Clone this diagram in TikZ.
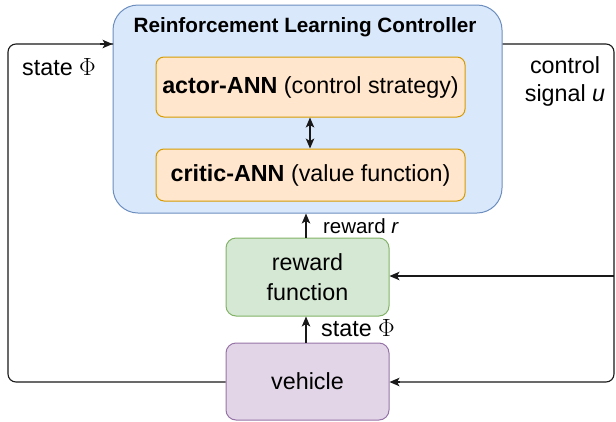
\documentclass[tikz,border=0pt]{standalone}
\usepackage{fontspec}
\setmainfont{Liberation Sans}
\usetikzlibrary{arrows.meta}
\definecolor{bfill}{HTML}{DAE8FC}\definecolor{bdraw}{HTML}{6C8EBF}
\definecolor{ofill}{HTML}{FFE6CC}\definecolor{odraw}{HTML}{D79B00}
\definecolor{gfill}{HTML}{D5E8D4}\definecolor{gdraw}{HTML}{82B366}
\definecolor{pfill}{HTML}{E1D5E7}\definecolor{pdraw}{HTML}{9673A6}
\begin{document}
\begin{tikzpicture}[x=1pt,y=-1pt,
  conn/.style={line width=1.1pt,draw=black!90,-{Stealth[length=10pt,width=8.5pt,inset=2.5pt]}},
  dconn/.style={line width=1.1pt,draw=black!90,{Stealth[length=10pt,width=8.5pt,inset=2.5pt]}-{Stealth[length=10pt,width=8.5pt,inset=2.5pt]}},
  loopline/.style={line width=1.1pt,draw=black!90,rounded corners=8pt},
  inner/.style={draw=odraw,fill=ofill,line width=1pt,rounded corners=8pt,minimum width=309pt,inner sep=0pt,font=\fontsize{23.3}{28}\selectfont},
  small/.style={draw,line width=1pt,rounded corners=10pt,minimum width=163pt,inner sep=0pt,align=center,font=\fontsize{23.3}{30}\selectfont},
  lbl/.style={inner sep=0pt,font=\fontsize{23.3}{28}\selectfont,align=center}]
\useasboundingbox (0,0) rectangle (616,421);
\node[draw=bdraw,fill=bfill,line width=1pt,rounded corners=25pt,minimum width=389pt,minimum height=208pt,inner sep=0pt] (rl) at (307.5,109) {};
\node[inner sep=0pt,font=\fontsize{20.7}{24}\selectfont\bfseries] (title) at (305,27) {Reinforcement Learning Controller};
\node[inner,minimum height=60pt] (actor) at (310.5,87) {\textbf{actor-ANN} (control strategy)};
\node[inner,minimum height=52pt] (critic) at (310.5,175) {\textbf{critic-ANN} (value function)};
\node[small,draw=gdraw,fill=gfill,minimum height=78pt] (rew) at (307.5,277) {reward\\function};
\node[small,draw=pdraw,fill=pfill,minimum height=77pt] (veh) at (307.5,381.5) {vehicle};
\draw[dconn] (actor.south -| 310,0) -- (critic.north -| 310,0);
\draw[conn] (306,238) coordinate (r1) -- (r1 |- rl.south);
\draw[conn] (306,343) coordinate (v1) -- (v1 |- rew.south);
\coordinate (lc) at (8,44);
\coordinate (rc) at (614,44);
\coordinate (bc) at (614,276);
\draw[loopline] (veh.west |- 0,382) -| (lc) -- (113,44);
\draw[conn] (100,44) -- (rl.west |- 0,44);
\draw[loopline] (rl.east |- 0,44) -| (614,382) -- (400,382);
\draw[conn] (400,382) -- (veh.east |- 0,382);
\draw[conn] (bc) -- (rew.east |- bc);
\node[lbl] (s1) at (59,67) {state $\Phi$};
\node[lbl] (cs) at (565,81) {control\\signal \textit{u}};
\node[lbl,font=\fontsize{20.5}{24}\selectfont] (rr) at (361,226) {reward \textit{r}};
\node[lbl] (s2) at (358,328) {state $\Phi$};
\end{tikzpicture}
\end{document}
